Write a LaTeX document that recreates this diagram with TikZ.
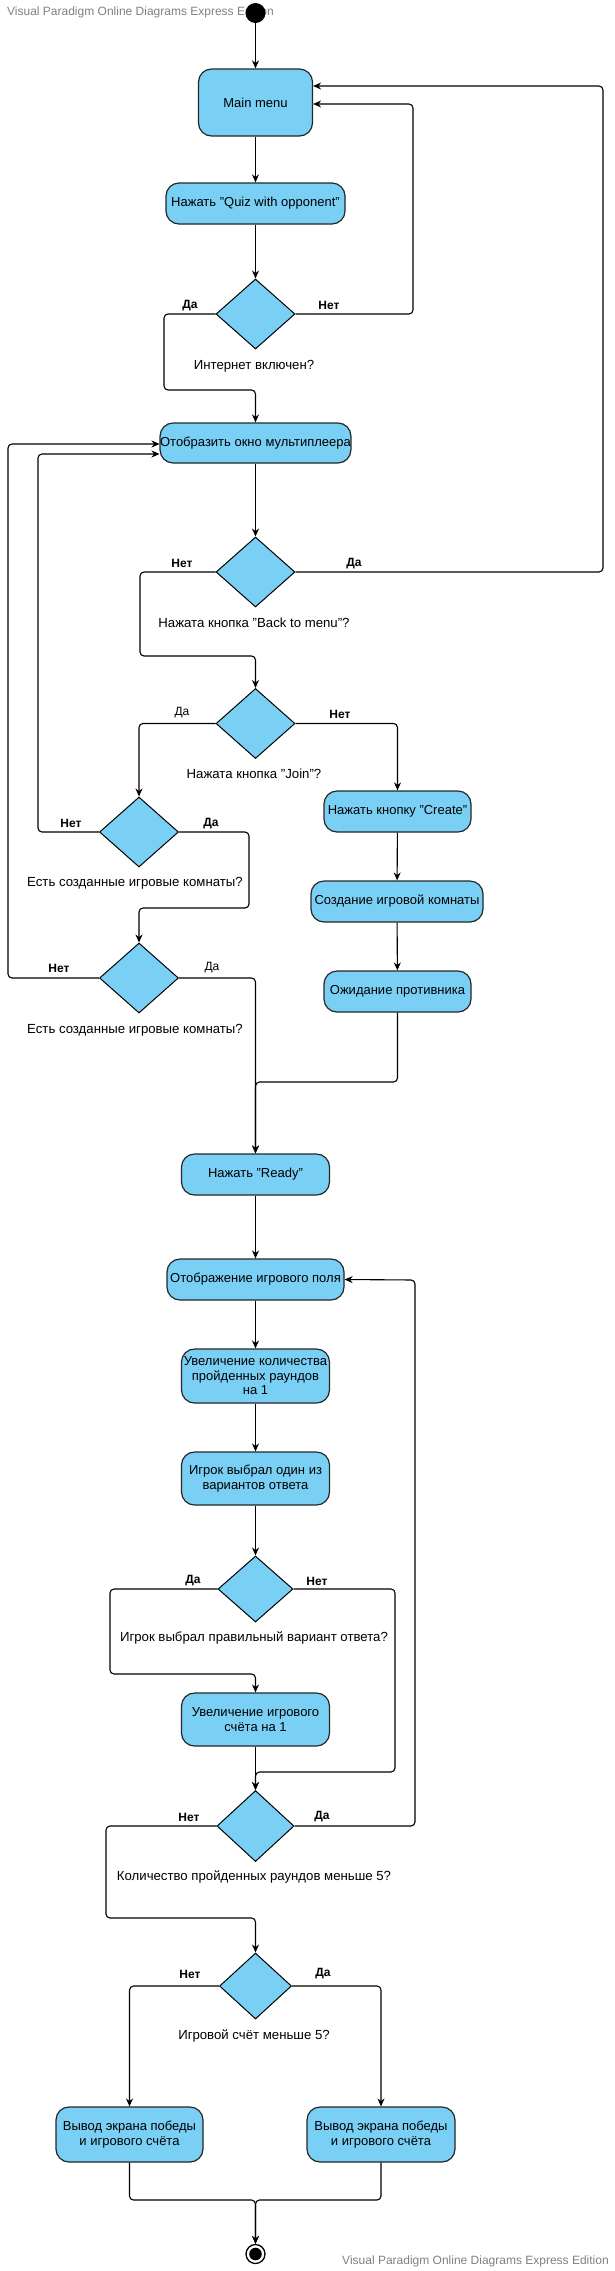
\documentclass[tikz,border=0pt]{standalone}
\usepackage{fontspec}
\setmainfont{Liberation Sans}
\usetikzlibrary{shapes.geometric,arrows.meta}
\definecolor{boxblue}{RGB}{122,207,245}
\definecolor{wmgray}{RGB}{128,128,128}
\tikzset{
  act/.style={draw=black!85, fill=boxblue, line width=1.2pt, rounded corners=13pt,
    inner sep=0pt, align=center, font=\fontsize{13}{14.5}\selectfont},
  dec/.style={diamond, draw=black, fill=boxblue, line width=1pt, inner sep=0pt},
  conn/.style={draw=black, line width=1.1pt, rounded corners=4pt},
  arr/.style={conn, -{Stealth[length=8pt,width=7pt]}},
  qtext/.style={font=\fontsize{13.2}{14.5}\selectfont, inner sep=0pt},
  yn/.style={font=\fontsize{12}{14}\selectfont\bfseries, inner sep=0pt},
  ynn/.style={font=\fontsize{12}{14}\selectfont, inner sep=0pt},
  wm/.style={font=\fontsize{12}{14}\selectfont, text=wmgray, inner sep=0pt}
}
\begin{document}
\begin{tikzpicture}[x=1pt,y=-1pt]
\useasboundingbox (0,0) rectangle (615,2271);
% watermarks
\node[wm, anchor=west] (wm1) at (7,12) {Visual Paradigm Online Diagrams Express Edition};
\node[wm, anchor=east] (wm2) at (609,2261) {Visual Paradigm Online Diagrams Express Edition};
% start
\node[circle, fill=black, minimum size=20pt, inner sep=0pt] (init) at (255.5,13) {};
% nodes
\node[act, minimum width=114pt, minimum height=67pt] (mm) at (255.5,102.5) {Main menu};
\node[act, minimum width=179pt, minimum height=41pt] (quiz) at (255.5,203.5) {Нажать "Quiz with opponent"};
\node[dec, minimum width=79pt, minimum height=70pt] (d1) at (255.5,314) {};
\node[qtext] (q1) at (254,366) {Интернет включен?};
\node[yn] (l1a) at (190,306) {Да};
\node[yn] (l1b) at (329,305) {Нет};

\node[act, minimum width=190pt, minimum height=40pt] (disp) at (255.5,443) {Отобразить окно мультиплеера};
\node[dec, minimum width=79pt, minimum height=70pt] (d2) at (255.5,572) {};
\node[qtext] (q2) at (254,623) {Нажата кнопка "Back to menu"?};
\node[yn] (l2a) at (182,563) {Нет};
\node[yn] (l2b) at (354,564) {Да};

\node[dec, minimum width=79pt, minimum height=70pt] (d3) at (255.5,723.5) {};
\node[qtext] (q3) at (254,774) {Нажата кнопка "Join"?};
\node[ynn] (l3a) at (182,713) {Да};
\node[yn] (l3b) at (340,714) {Нет};

\node[act, minimum width=147pt, minimum height=41pt] (create) at (397.5,811.5) {Нажать кнопку "Create"};
\node[act, minimum width=172pt, minimum height=41pt] (room) at (397,901.5) {Создание игровой комнаты};
\node[act, minimum width=147pt, minimum height=41pt] (wait) at (397.5,991.5) {Ожидание противника};

\node[dec, minimum width=79pt, minimum height=70pt] (d4) at (139,832) {};
\node[qtext] (q4) at (135,883) {Есть созданные игровые комнаты?};
\node[yn] (l4a) at (71,823) {Нет};
\node[yn] (l4b) at (211,824) {Да};

\node[dec, minimum width=79pt, minimum height=70pt] (d5) at (139,978) {};
\node[qtext] (q5) at (135,1030) {Есть созданные игровые комнаты?};
\node[yn] (l5a) at (59,968) {Нет};
\node[ynn] (l5b) at (212,968) {Да};

\node[act, minimum width=148pt, minimum height=41pt] (ready) at (255.5,1174.5) {Нажать "Ready"};
\node[act, minimum width=177pt, minimum height=41pt] (field) at (255.5,1279.5) {Отображение игрового поля};
\node[act, minimum width=148pt, minimum height=54pt] (inc) at (255.5,1376) {Увеличение количества\\пройденных раундов\\на 1};
\node[act, minimum width=148pt, minimum height=53pt] (chose) at (255.5,1478.5) {Игрок выбрал один из\\вариантов ответа};

\node[dec, minimum width=75pt, minimum height=66pt] (d6) at (255.5,1589) {};
\node[qtext] (q6) at (254,1638) {Игрок выбрал правильный вариант ответа?};
\node[yn] (l6a) at (193,1581) {Да};
\node[yn] (l6b) at (317,1581) {Нет};

\node[act, minimum width=148pt, minimum height=53pt] (score) at (255.5,1719.5) {Увеличение игрового\\счёта на 1};

\node[dec, minimum width=77pt, minimum height=71pt] (d7) at (255.5,1826) {};
\node[qtext] (q7) at (254,1877) {Количество пройденных раундов меньше 5?};
\node[yn] (l7a) at (189,1817) {Нет};
\node[yn] (l7b) at (322,1817) {Да};

\node[dec, minimum width=72pt, minimum height=66pt] (d8) at (255.5,1986) {};
\node[qtext] (q8) at (254,2036) {Игровой счёт меньше 5?};
\node[yn] (l8a) at (190,1974) {Нет};
\node[yn] (l8b) at (323,1974) {Да};

\node[act, minimum width=147pt, minimum height=55pt] (winL) at (129.5,2134.5) {Вывод экрана победы\\и игрового счёта};
\node[act, minimum width=148pt, minimum height=55pt] (winR) at (381,2134.5) {Вывод экрана победы\\и игрового счёта};

\node[circle, draw=black, line width=1.3pt, minimum size=19pt, inner sep=0pt,
  path picture={\fill[black] (path picture bounding box.center) circle (6.3pt);}] (final) at (255.5,2254) {};

% helper coordinates
\coordinate (c1) at (413,104);
\coordinate (c2) at (603,86);
\coordinate (c3) at (164,390);
\coordinate (c4) at (140,656);
\coordinate (c5) at (38,454);
\coordinate (c6) at (249,908);
\coordinate (c7) at (8,444);
\coordinate (c8) at (255.5,1082);
\coordinate (c9) at (110,1674);
\coordinate (c10) at (395,1772);
\coordinate (c11) at (415,1280);
\coordinate (c12) at (106,1918);
\coordinate (c13) at (255.5,2200);

% connectors
\draw[arr] (init) -- (mm);
\draw[arr] (mm) -- (quiz);
\draw[arr] (quiz) -- (d1);
\draw[arr] (d1.east) -| (c1) -- (c1 -| mm.east);
\draw[arr] (d1.west) -| (c3) -| (disp.north);
\draw[arr] (disp) -- (d2);
\draw[arr] (d2.east) -| (c2) -- (c2 -| mm.east);
\draw[arr] (d2.west) -| (c4) -| (d3.north);
\draw[arr] (d3.west) -| (d4.north);
\draw[arr] (d3.east) -| (create.north);
\draw[arr] (create) -- (room);
\draw[arr] (room) -- (wait);
\draw[arr] (d4.west) -| (c5) -- (c5 -| disp.west);
\draw[arr] (d4.east) -| (c6) -| (d5.north);
\draw[arr] (d5.west) -| (c7) -- (c7 -| disp.west);
\draw[arr] (d5.east) -| (ready.north);
\draw[arr] (wait.south) |- (c8) -- (ready.north);
\draw[arr] (ready) -- (field);
\draw[arr] (field) -- (inc);
\draw[arr] (inc) -- (chose);
\draw[arr] (chose) -- (d6);
\draw[arr] (d6.west) -| (c9) -| (score.north);
\draw[arr] (d6.east) -| (c10) -| (d7.north);
\draw[arr] (score) -- (d7);
\draw[arr] (d7.east) -| (c11) -- (field.east);
\draw[arr] (d7.west) -| (c12) -| (d8.north);
\draw[arr] (d8.west) -| (winL.north);
\draw[arr] (d8.east) -| (winR.north);
\draw[arr] (winL.south) |- (c13) -- (final.north);
\draw[arr] (winR.south) |- (c13) -- (final.north);
\end{tikzpicture}
\end{document}
